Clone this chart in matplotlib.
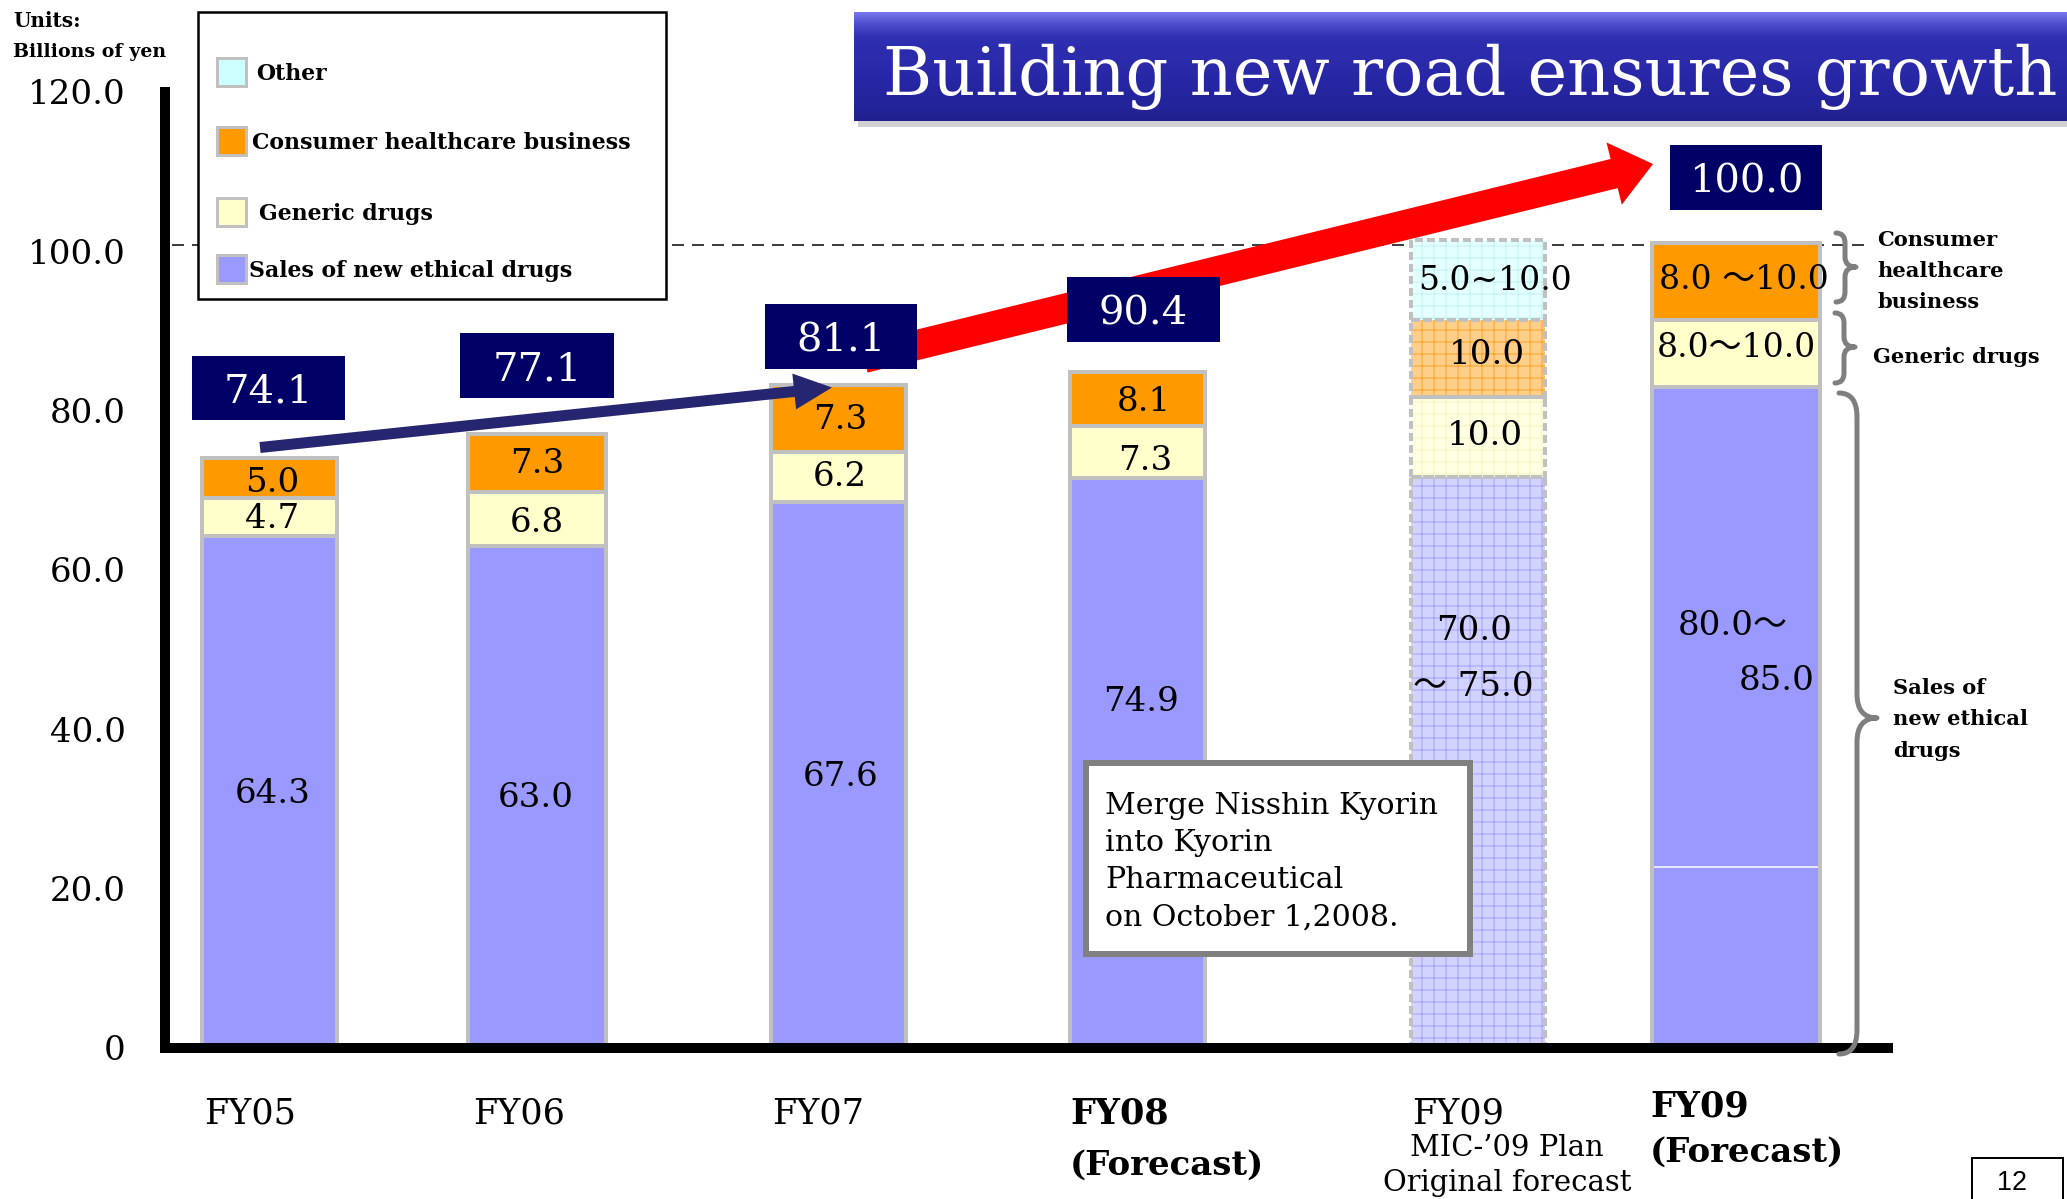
import matplotlib
matplotlib.use("Agg")
import numpy as np
import matplotlib.pyplot as plt
from matplotlib.patches import Rectangle, FancyArrow, PathPatch
from matplotlib.path import Path

# ------------------------------------------------------------------ data
categories = ["FY05", "FY06", "FY07", "FY08", "FY09 plan", "FY09 forecast"]
new_ethical = [64.3, 63.0, 68.5, 71.6, 71.7, 83.0]
generic = [4.7, 6.8, 6.3, 6.5, 10.0, 8.4]
consumer = [5.0, 7.3, 8.4, 6.7, 9.7, 9.6]
other = [0.0, 0.0, 0.0, 0.0, 10.0, 0.0]
fy09f_split = 22.7

new_labels = ["64.3", "63.0", "67.6", "74.9", ["70.0", "～ 75.0"], ["80.0～", "85.0"]]
generic_labels = ["4.7", "6.8", "6.2", "7.3", "10.0", "8.0～10.0"]
consumer_labels = ["5.0", "7.3", "7.3", "8.1", "10.0", "8.0 ～10.0"]
other_labels = ["", "", "", "", "5.0~10.0", ""]
total_labels = ["74.1", "77.1", "81.1", "90.4", "", "100.0"]
x_labels = [["FY05"], ["FY06"], ["FY07"], ["FY08", "(Forecast)"],
            ["FY09", "MIC-’09 Plan", "Original forecast"], ["FY09", "(Forecast)"]]
ytick_values = [0, 20, 40, 60, 80, 100, 120]
ytick_labels = ["0", "20.0", "40.0", "60.0", "80.0", "100.0", "120.0"]
legend_labels = ["Other", "Consumer healthcare business", "Generic drugs",
                 "Sales of new ethical drugs"]
target_line = 100.8
title = "Building new road ensures growth"
note_lines = ["Merge Nisshin Kyorin", "into Kyorin", "Pharmaceutical",
              "on October 1,2008."]

# ------------------------------------------------------------------ style / layout
W, H, DPI = 2067, 1199, 72
plt.rcParams['font.family'] = ['DejaVu Serif', 'Noto Sans CJK JP']
plt.rcParams['hatch.linewidth'] = 1.0

BLUE, YELLOW, ORANGE, CYAN = '#9999ff', '#ffffcc', '#ff9900', '#ccffff'
HATCH_FILL = ['#d2d2ff', '#ffffe2', '#ffcf8a', '#e4ffff']
HATCH_LINE = ['#a4a4ff', '#f4f4c4', '#ffa226', '#c2f2f2']
NAVY = '#000066'
EDGE = '#c0c0c0'
PLAN = 4

bar_x = [269.5, 536.5, 838, 1137.5, 1477.5, 1735.5]
bar_w = [135, 138, 135, 135, 134, 168]

fig = plt.figure(figsize=(W / DPI, H / DPI), dpi=DPI, facecolor='white')
X0, X1, Y0, Y120 = 165, 1888, 1048, 92
ax = fig.add_axes([X0 / W, 1 - Y0 / H, (X1 - X0) / W, (Y0 - Y120) / H])
ax.set_xlim(X0, X1)
ax.set_ylim(0, 120)
for s in ['top', 'right']:
    ax.spines[s].set_visible(False)
for s in ['left', 'bottom']:
    ax.spines[s].set_linewidth(10)
    ax.spines[s].set_color('black')
    ax.spines[s].set_capstyle('projecting')
ax.set_xticks([])
ax.set_yticks(ytick_values)
ax.set_yticklabels(ytick_labels, fontsize=34)
ax.tick_params(axis='y', length=0, pad=39)
ax.patch.set_visible(False)

ax.hlines(target_line, 172, 1864, colors='#404040', linestyles=(0, (6, 4)),
          lw=2, zorder=1)

series = [(new_ethical, BLUE), (generic, YELLOW), (consumer, ORANGE), (other, CYAN)]
bottoms = np.zeros(len(categories))
for k, (vals, col) in enumerate(series):
    for i in range(len(categories)):
        v = vals[i]
        if v <= 0:
            continue
        if i == PLAN:
            ax.bar(bar_x[i], v, bottom=bottoms[i], width=bar_w[i],
                   color=HATCH_FILL[k], edgecolor=HATCH_LINE[k], hatch='+',
                   lw=0, zorder=2)
            ax.bar(bar_x[i], v, bottom=bottoms[i], width=bar_w[i], fill=False,
                   edgecolor=EDGE, lw=4, linestyle=(0, (2, 1)), zorder=2.2)
        else:
            ax.bar(bar_x[i], v, bottom=bottoms[i], width=bar_w[i], color=col,
                   edgecolor=EDGE, lw=4, zorder=2)
    bottoms += np.array(vals)
ax.hlines(fy09f_split, bar_x[5] - bar_w[5] / 2 + 2, bar_x[5] + bar_w[5] / 2 - 2,
          colors='white', lw=1.5, zorder=3)

# ------------------------------------------------------------------ overlay (pixel coords)
ov = fig.add_axes([0, 0, 1, 1], zorder=5)
ov.patch.set_visible(False)
ov.axis('off')


def T(x, yc, s, size, ha='center', weight='normal', color='black', family=None, z=10):
    kw = {}
    if family is not None:
        kw['family'] = family
    return ov.text(x, yc + 0.365 * size, s, fontsize=size, ha=ha, va='baseline',
                   fontweight=weight, color=color, zorder=z, **kw)


# title banner
grad = np.array([
    [0.47, 0.47, 0.93], [0.30, 0.30, 0.80], [0.19, 0.19, 0.70], [0.17, 0.17, 0.68],
    [0.17, 0.17, 0.67], [0.16, 0.16, 0.66], [0.15, 0.15, 0.64], [0.14, 0.14, 0.62],
    [0.14, 0.14, 0.60], [0.12, 0.12, 0.55]])
gy = np.linspace(0, 1, grad.shape[0])
yy = np.linspace(0, 1, 110)
img = np.stack([np.interp(yy, gy, grad[:, c]) for c in range(3)], axis=1)[:, None, :]
ov.add_patch(Rectangle((858, 17), 1215, 110, facecolor='#999999', alpha=0.45,
                       lw=0, zorder=1))
ov.imshow(img, extent=(854, 2067, 121, 12), aspect='auto', zorder=2,
          interpolation='bilinear')
ov.text(883, 95, title, fontsize=67, color='white', ha='left', va='baseline', zorder=3)

# units
T(13, 20, "Units:", 20, ha='left', weight='bold')
T(13, 50, "Billions of yen", 19, ha='left', weight='bold')

# legend
ov.add_patch(Rectangle((198, 12), 468, 287, facecolor='white', edgecolor='black',
                       lw=2.5, zorder=4))
leg_cols = [CYAN, ORANGE, YELLOW, BLUE]
leg_y = [71.5, 140.5, 212, 268.5]
leg_tx = [256, 252, 259, 249]
for col, lab, y, tx in zip(leg_cols, legend_labels, leg_y, leg_tx):
    ov.add_patch(Rectangle((217, y - 14), 29, 28, facecolor=col, edgecolor=EDGE,
                           lw=3, zorder=5))
    T(tx, y, lab, 22, ha='left', weight='bold', z=6)

# arrows
ov.add_patch(FancyArrow(864, 358, 789, -194, width=30, head_width=64, head_length=40,
                        length_includes_head=True, color='#ff0000', lw=0, zorder=6))
ov.add_patch(FancyArrow(260, 447.5, 572, -60, width=11, head_width=36, head_length=38,
                        length_includes_head=True, color='#262670', lw=0, zorder=6))

# total boxes
box_geo = [(192, 356, 153, 64), (460, 333, 154, 65), (765, 304, 152, 65),
           (1067, 277, 153, 65), None, (1670, 145, 152, 65)]
for geo, lab in zip(box_geo, total_labels):
    if geo is None or not lab:
        continue
    x, y, w, h = geo
    ov.add_patch(Rectangle((x, y), w, h, facecolor=NAVY, lw=0, zorder=7))
    T(x + w / 2, y + h / 2, lab, 40, color='white', z=8)

# segment labels
new_pos = [(273, 791), (536, 795), (841, 774), (1141, 699),
           [(1474, 628), (1473, 684)], [(1733, 623), (1777, 678)]]
gen_pos = [(272, 516), (537, 520), (840, 474), (1145, 458), (1485, 433), (1736, 345)]
con_pos = [(272, 480), (537, 461), (840, 417), (1144, 399), (1487, 352), (1744, 277)]
oth_pos = [None, None, None, None, (1495, 278), None]
for labs, poss in [(new_labels, new_pos), (generic_labels, gen_pos),
                   (consumer_labels, con_pos), (other_labels, oth_pos)]:
    for lab, pos in zip(labs, poss):
        if not lab or pos is None:
            continue
        if isinstance(lab, list):
            for l, p in zip(lab, pos):
                T(p[0], p[1], l, 34)
        else:
            T(pos[0], pos[1], lab, 34 if len(lab) < 6 else 33)

# x labels
T(250, 1111, x_labels[0][0], 35)
T(519, 1111, x_labels[1][0], 35)
T(818, 1111, x_labels[2][0], 35)
T(1070, 1111, x_labels[3][0], 35, ha='left', weight='bold')
T(1070, 1162, x_labels[3][1], 34, ha='left', weight='bold')
T(1458, 1111, x_labels[4][0], 35)
T(1507, 1145, x_labels[4][1], 29)
T(1507, 1180, x_labels[4][2], 29)
T(1650, 1104, x_labels[5][0], 35, ha='left', weight='bold')
T(1650, 1149, x_labels[5][1], 34, ha='left', weight='bold')


# braces
def brace(x0, y0, y1, q, w, ym, r):
    verts = [(x0, y0), (x0 + q, y0), (x0 + q, y0 + r), (x0 + q, ym - r),
             (x0 + q, ym), (x0 + w, ym), (x0 + q, ym), (x0 + q, ym + r),
             (x0 + q, y1 - r), (x0 + q, y1), (x0, y1)]
    codes = [Path.MOVETO, Path.CURVE3, Path.CURVE3, Path.LINETO,
             Path.CURVE3, Path.CURVE3, Path.CURVE3, Path.CURVE3,
             Path.LINETO, Path.CURVE3, Path.CURVE3]
    ov.add_patch(PathPatch(Path(verts, codes), facecolor='none', edgecolor='#7f7f7f',
                           lw=5, capstyle='round', joinstyle='round', zorder=6))


brace(1836, 233, 302, 9, 20, 267, 10)
brace(1835, 313, 383, 9, 20, 347, 10)
brace(1839, 393, 1054, 18, 38, 718, 24)
for y, s in zip([238, 269, 300], ["Consumer", "healthcare", "business"]):
    T(1877, y, s, 21, ha='left', weight='bold')
T(1873, 355, "Generic drugs", 21, ha='left', weight='bold')
for y, s in zip([686, 717, 749], ["Sales of", "new ethical", "drugs"]):
    T(1893, y, s, 21, ha='left', weight='bold')

# note box
ov.add_patch(Rectangle((1086, 763), 384, 191, facecolor='white', edgecolor='#808080',
                       lw=6, zorder=7))
for y, s in zip([803, 840, 877, 915], note_lines):
    T(1105, y, s, 30, ha='left', z=8)

# page number
ov.add_patch(Rectangle((1972, 1158), 91, 45, facecolor='white', edgecolor='black',
                       lw=2, zorder=7))
T(2012, 1180, "12", 27, family='Liberation Sans', z=8)

ov.set_xlim(0, W)
ov.set_ylim(H, 0)

fig.savefig("out.png", dpi=DPI, facecolor='white')
